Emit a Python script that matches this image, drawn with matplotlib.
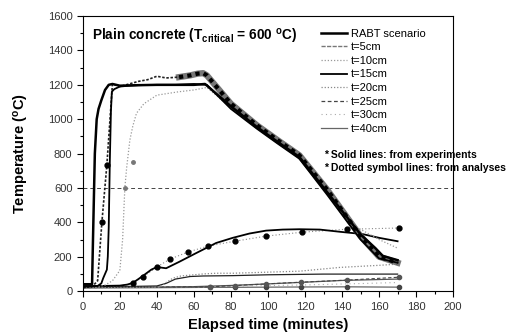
import matplotlib
matplotlib.use('Agg')
import matplotlib.pyplot as plt
from matplotlib.lines import Line2D
from matplotlib.ticker import MultipleLocator

plt.rcParams['font.family'] = ['Liberation Sans', 'DejaVu Sans']

# RABT fire curve (thick black)
rabt_t = [0, 5, 5.5, 6.5, 7.5, 8.5, 10, 12, 14, 16, 20, 30, 40, 50, 60, 66, 80, 94, 105, 117, 132, 150, 158, 162, 170]
rabt_T = [40, 40, 300, 800, 1000, 1060, 1110, 1170, 1200, 1205, 1195, 1198, 1200, 1200, 1200, 1205, 1075, 955, 870, 780, 575, 330, 250, 205, 180]

# t=5cm
exp5_t = [0, 8, 10, 11, 12, 13, 13.5, 14, 14.6, 15.2, 15.7, 17, 20, 25, 30, 40, 50, 60, 67, 80, 94, 105, 117, 132, 150, 160, 170]
exp5_T = [25, 30, 45, 75, 100, 125, 200, 370, 760, 1050, 1160, 1175, 1190, 1195, 1198, 1200, 1200, 1205, 1200, 1060, 945, 860, 770, 560, 300, 190, 165]
ana5_t = [0, 5, 8, 10.3, 13, 16, 20, 25, 30, 35, 40, 45, 52, 58, 62, 65, 67, 80, 94, 105, 117, 132, 150, 160, 170]
ana5_T = [20, 25, 60, 400, 735, 1205, 1190, 1205, 1220, 1230, 1250, 1240, 1245, 1255, 1265, 1268, 1255, 1090, 965, 880, 790, 590, 320, 200, 165]

# t=10cm
g10_t = [0, 8, 12, 16, 20, 21.5, 22.7, 23.7, 25.4, 27, 29, 33, 40, 46, 52, 60, 67, 80, 94, 105, 117, 132, 144, 160, 170]
g10_T = [20, 25, 35, 60, 120, 300, 600, 720, 878, 960, 1035, 1090, 1140, 1150, 1160, 1170, 1185, 1065, 950, 865, 775, 570, 395, 300, 250]
g10_mk_t = [22.7, 27]
g10_mk_T = [600, 750]

# t=15cm
exp15_t = [0, 10, 20, 24, 27, 30, 33, 37, 40, 45, 52, 61, 72, 81, 90, 99, 108, 117, 128, 139, 151, 160, 170]
exp15_T = [30, 30, 32, 38, 48, 70, 93, 125, 140, 133, 170, 220, 280, 310, 335, 352, 358, 360, 358, 345, 332, 310, 290]
ana15_t = [0, 20, 27, 32.7, 40, 47, 56.7, 67.6, 82, 99, 118.6, 142.5, 171]
ana15_T = [25, 30, 45, 85, 140, 186, 227, 262, 290, 320, 343, 360, 367]

# t=20cm
g20_t = [0, 20, 35, 41.6, 45, 48.6, 53, 58, 65, 72, 81, 99, 117, 139, 160, 170]
g20_T = [20, 22, 22, 23, 50, 75, 88, 93, 100, 104, 104, 110, 116, 138, 150, 157]
e20_t = [0, 30, 40, 45, 50, 58, 65, 81, 100, 130, 170]
e20_T = [25, 28, 30, 45, 70, 85, 88, 90, 95, 99, 99]

# t=25cm
g25_t = [0, 20, 40, 50, 60, 68.6, 82, 99, 118, 142.5, 171]
g25_T = [20, 22, 23, 25, 25, 25, 32, 42, 52, 64, 81]
e25_t = [0, 40, 60, 80, 100, 120, 140, 170]
e25_T = [22, 24, 26, 33, 42, 52, 62, 70]

# t=30cm / t=40cm
g30_t = [0, 30, 60, 90, 120, 150, 170]
g30_T = [18, 20, 24, 30, 36, 44, 50]
g40_t = [0, 40, 68.6, 82, 99, 118, 142.5, 171]
g40_T = [18, 20, 22, 22, 23, 24, 25, 23]

legend_labels = ['RABT scenario', 't=5cm', 't=10cm', 't=15cm', 't=20cm', 't=25cm', 't=30cm', 't=40cm']

fig = plt.figure(figsize=(5.08, 3.35), dpi=100)
ax = fig.add_axes([0.163, 0.131, 0.729, 0.821])

ax.axhline(600, color='#444444', lw=0.7, ls=(0, (4, 3)))

# low lines
ax.plot(g40_t, g40_T, color='#666666', lw=0.9, marker='o', ms=3, mfc='#444444', mec='#444444', markevery=[2, 3, 4, 5, 6, 7])
ax.plot(g30_t, g30_T, color='#aaaaaa', lw=0.8, ls=(0, (1, 3)))
ax.plot(e25_t, e25_T, color='#555555', lw=0.9)
ax.plot(g25_t, g25_T, color='#444444', lw=0.8, ls=(0, (3, 2)), marker='o', ms=3, mfc='#555555', mec='#555555', markevery=[5, 6, 7, 8, 9, 10])
ax.plot(e20_t, e20_T, color='#222222', lw=0.9)
ax.plot(g20_t, g20_T, color='#888888', lw=0.9, ls=(0, (1, 1.5)))

# 15cm
ax.plot(ana15_t, ana15_T, color='#888888', lw=0.8, ls=(0, (1, 2)), marker='o', ms=3.5, mfc='black', mec='black', markevery=list(range(2, 13)))
ax.plot(exp15_t, exp15_T, color='black', lw=1.3)

# 10cm
ax.plot(g10_t, g10_T, color='#999999', lw=0.9, ls=(0, (1, 1.5)))
ax.plot(g10_mk_t, g10_mk_T, ls='none', marker='o', ms=2.5, color='#777777')

# 5cm
ax.plot(ana5_t[12:], ana5_T[12:], color='#777777', lw=4.5)
ax.plot(ana5_t[12:], ana5_T[12:], color='black', lw=3, ls=(0, (1, 1)))
ax.plot(ana5_t[:13], ana5_T[:13], color='#222222', lw=1.2, ls=(0, (1.5, 1)), marker='o', ms=3.5, mfc='black', mec='black', markevery=[3, 4])
ax.plot(exp5_t, exp5_T, color='black', lw=1.3)

# RABT
ax.plot(rabt_t, rabt_T, color='black', lw=1.8)

ax.set_xlim(0, 200)
ax.set_ylim(0, 1600)
ax.xaxis.set_major_locator(MultipleLocator(20))
ax.xaxis.set_minor_locator(MultipleLocator(10))
ax.yaxis.set_major_locator(MultipleLocator(200))
ax.yaxis.set_minor_locator(MultipleLocator(100))
ax.tick_params(which='both', direction='out', top=False, right=False, labelsize=8, labelcolor='#333333', width=0.8)
ax.tick_params(which='major', length=4)
ax.tick_params(which='minor', length=2)
for sp in ax.spines.values():
    sp.set_linewidth(0.8)

ax.set_xlabel('Elapsed time (minutes)', fontsize=10.5, fontweight='bold', labelpad=5)
ax.set_ylabel('Temperature ($\\mathregular{^o}$C)', fontsize=10.5, fontweight='bold', labelpad=12)

ax.text(5, 1480, 'Plain concrete (T$_{\\mathregular{critical}}$ = 600 $\\mathregular{^o}$C)',
        fontsize=9.8, fontweight='bold', va='center')

styles = [
    dict(color='black', lw=1.8),
    dict(color='#777777', lw=1.0, ls=(0, (3, 1))),
    dict(color='#999999', lw=0.9, ls=(0, (1, 1.5))),
    dict(color='black', lw=1.3),
    dict(color='#888888', lw=0.9, ls=(0, (1, 1.5))),
    dict(color='#444444', lw=0.9, ls=(0, (3, 2))),
    dict(color='#aaaaaa', lw=0.8, ls=(0, (1, 3))),
    dict(color='#666666', lw=0.9),
]
handles = [Line2D([], [], **s) for s in styles]
ax.legend(handles, legend_labels, loc='upper left', bbox_to_anchor=(0.63, 0.97), frameon=False,
          fontsize=8, handlelength=2.4, handletextpad=0.3, labelspacing=0.32, borderaxespad=0)

ax.text(130, 790, '* Solid lines: from experiments', fontsize=7.5, fontweight='bold', va='center', clip_on=False)
ax.text(130, 715, '* Dotted symbol lines: from analyses', fontsize=7.5, fontweight='bold', va='center', clip_on=False)

fig.savefig('out.png', dpi=100)
